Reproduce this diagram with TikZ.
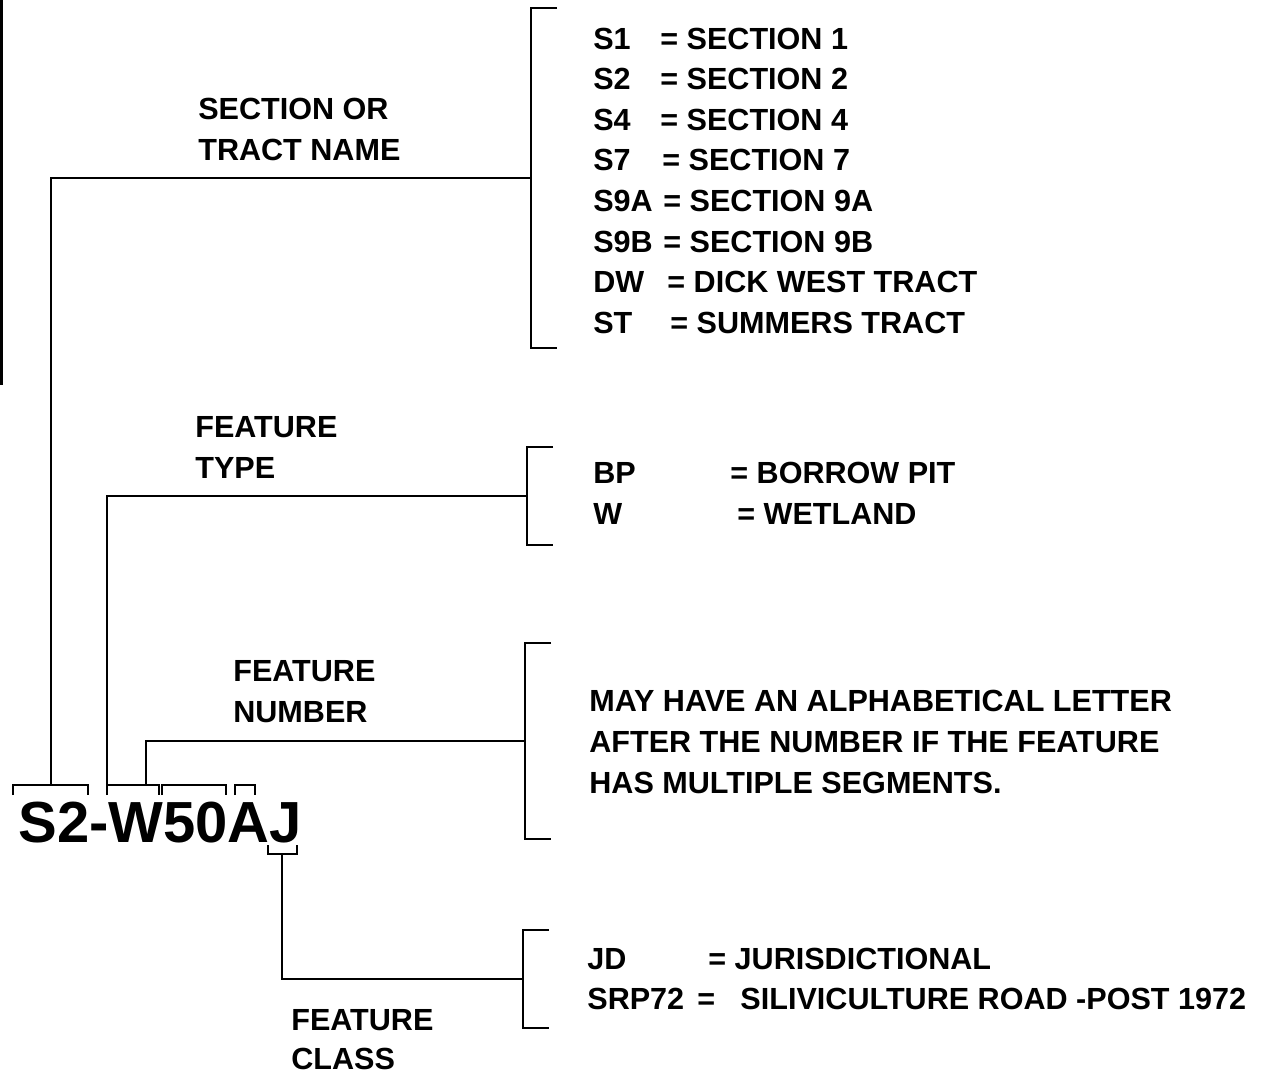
\documentclass[tikz,border=0pt]{standalone}
\usepackage{fontspec}
\setmainfont{Liberation Sans}
\usetikzlibrary{positioning}

\newcommand{\lblfont}{\fontsize{17.4}{21}\selectfont\bfseries}
\newcommand{\codefont}{\fontsize{33}{36}\selectfont\bfseries}

% side bracket: name, x, top y, bottom y
\newcommand{\sidebracket}[4]{%
  \draw[brk] (#2+26,#3) -- (#2,#3) -- (#2,#4) -- (#2+26,#4);
  \coordinate (#1) at (#2,{(#3+#4)/2});}
% bracket over a part of the code: left x, right x
\newcommand{\partbracket}[2]{%
  \draw[brk] (#1,795) -- (#1,785) -- (#2,785) -- (#2,795);}

\begin{document}
\begin{tikzpicture}[x=0.02cm,y=-0.02cm,
    brk/.style={line width=1pt,line join=miter},
    lbl/.style={font=\lblfont,anchor=base west,inner sep=0pt},
    codetxt/.style={font=\codefont,anchor=base west,inner sep=0pt}]
  \useasboundingbox (0,0) rectangle (1281,1076);
  % scan edge
  \fill (0,0) rectangle (3,385);

  % the code
  \node[codetxt] (code) at (18,842) {S2-W50AJ};
  \partbracket{13}{88}
  \partbracket{107}{159}
  \partbracket{162}{226}
  \partbracket{235}{255}
  \draw[brk] (268,845) -- (268,854) -- (297,854) -- (297,845);
  \coordinate (tSec) at (51,785);
  \coordinate (tType) at (107,785);
  \coordinate (tNum) at (146,785);
  \coordinate (tCls) at (282,854);

  % brackets on the right
  \sidebracket{secBr}{531}{8}{348}
  \sidebracket{typeBr}{527}{447}{545}
  \sidebracket{numBr}{525}{643}{839}
  \sidebracket{clsBr}{523}{930}{1028}

  % connectors
  \draw[brk] (tSec) |- (secBr);
  \draw[brk] (tType) |- (typeBr);
  \draw[brk] (tNum) |- (numBr);
  \draw[brk] (tCls) |- (clsBr);

  % labels
  \node[lbl] (secA) at (198,119) {SECTION OR};
  \node[lbl] (secB) at (198,160) {TRACT NAME};
  \node[lbl] (typeA) at (195,437) {FEATURE};
  \node[lbl] (typeB) at (195,478) {TYPE};
  \node[lbl] (numA) at (233,681) {FEATURE};
  \node[lbl] (numB) at (233,722) {NUMBER};
  \node[lbl] (clsA) at (291,1030) {FEATURE};
  \node[lbl] (clsB) at (291,1069) {CLASS};

  % section or tract names
  \foreach \cd/\ds/\ex [count=\i from 0] in {S1/SECTION 1/660,S2/SECTION 2/660,
      S4/SECTION 4/660,S7/SECTION 7/662,S9A/SECTION 9A/663,S9B/SECTION 9B/663,
      DW/DICK WEST TRACT/667,ST/SUMMERS TRACT/670}{
    \node[lbl] (sc\i) at (593,{49+40.6*\i}) {\cd};
    \node[lbl] (sd\i) at (\ex,{49+40.6*\i}) {= \ds};
  }

  % feature types
  \node[lbl] (tc0) at (593,483) {BP};
  \node[lbl] (td0) at (730,483) {= BORROW PIT};
  \node[lbl] (tc1) at (593,524) {W};
  \node[lbl] (td1) at (737,524) {= WETLAND};

  % feature number note
  \node[lbl] (note0) at (589,711) {MAY HAVE AN ALPHABETICAL LETTER};
  \node[lbl] (note1) at (589,752) {AFTER THE NUMBER IF THE FEATURE};
  \node[lbl] (note2) at (589,793) {HAS MULTIPLE SEGMENTS.};

  % feature classes
  \node[lbl] (cc0) at (587,969) {JD};
  \node[lbl] (cd0) at (708,969) {= JURISDICTIONAL};
  \node[lbl] (cc1) at (587,1009) {SRP72};
  \node[lbl] (cd1) at (697,1009) {=\hspace{0.55em} SILIVICULTURE ROAD -POST 1972};
\end{tikzpicture}
\end{document}
